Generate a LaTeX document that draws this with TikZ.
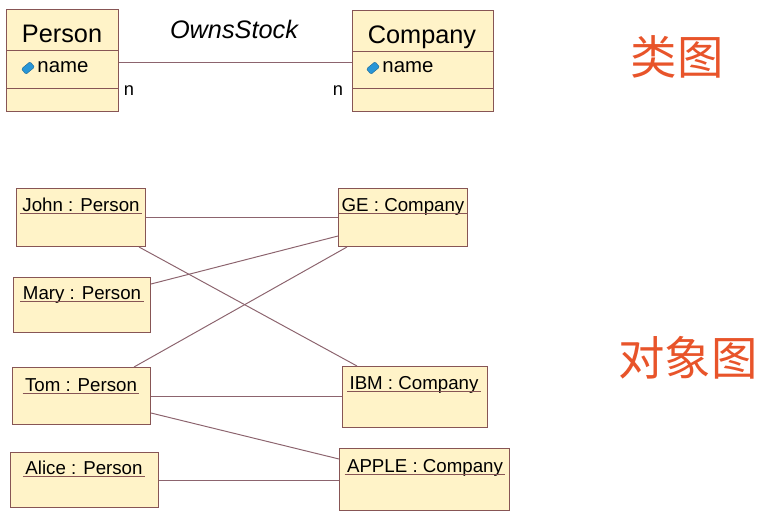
\documentclass[tikz,border=0pt]{standalone}
\usepackage{fontspec}
\setmainfont{Liberation Sans}
\newfontfamily\cjk{Noto Sans CJK SC}
\usetikzlibrary{calc}
\definecolor{boxfill}{RGB}{255,243,200}
\definecolor{boxline}{RGB}{135,85,85}
\definecolor{linkcol}{RGB}{140,100,110}
\definecolor{titlecol}{RGB}{232,84,42}
\definecolor{iconcol}{RGB}{40,150,215}

\begin{document}
\begin{tikzpicture}[x=0.025cm, y=-0.025cm, line width=0.7pt,
  box/.style={draw=boxline, fill=boxfill, anchor=north west, inner sep=0pt},
  link/.style={draw=linkcol},
  classname/.style={anchor=base, inner sep=0pt, font=\fontsize{18}{20}\selectfont},
  attr/.style={anchor=base west, inner sep=0pt, font=\fontsize{14.5}{16}\selectfont},
  attricon/.style={fill=iconcol, draw=iconcol!70!black, line width=0.3pt, rounded corners=0.8pt,
                   minimum width=8pt, minimum height=5pt, inner sep=0pt, rotate=40},
  objname/.style={anchor=base, inner sep=0pt, font=\fontsize{13.3}{15}\selectfont},
  title/.style={text=titlecol, font=\cjk\fontsize{33}{36}\selectfont}]
\useasboundingbox (0,0) rectangle (782,520);

% class diagram
\node[box, minimum width=2.8cm, minimum height=2.55cm] (person) at (6,9) {};
\node[box, minimum width=3.525cm, minimum height=2.525cm] (company) at (352,10) {};
\draw[boxline] ($(person.north west)+(0,41)$) -- ($(person.north east)+(0,41)$);
\draw[boxline] ($(person.north west)+(0,79)$) -- ($(person.north east)+(0,79)$);
\draw[boxline] ($(company.north west)+(0,41)$) -- ($(company.north east)+(0,41)$);
\draw[boxline] ($(company.north west)+(0,78)$) -- ($(company.north east)+(0,78)$);
\node[classname] (persontitle) at (62,42) {Person};
\node[classname] (companytitle) at (422,43.5) {Company};
\node[attr] (personattr) at (37,72) {name};
\node[attr] (companyattr) at (382,72) {name};
\node[attricon] (personicon) at (28,68) {};
\node[attricon] (companyicon) at (373,68) {};
\draw[link] ($(person.east)+(0,2)$) -- ($(person.east -| company.west)+(0,2)$);
\node[anchor=base, font=\fontsize{18}{20}\selectfont\itshape] (assoc) at (234,38) {OwnsStock};
\node[anchor=base, font=\fontsize{13}{15}\selectfont] (multperson) at (129,95) {n};
\node[anchor=base, font=\fontsize{13}{15}\selectfont] (multcompany) at (338,95) {n};

% object diagram
\node[box, minimum width=3.225cm, minimum height=1.45cm] (john) at (16,188) {};
\node[box, minimum width=3.425cm, minimum height=1.375cm] (mary) at (13,277) {};
\node[box, minimum width=3.45cm, minimum height=1.425cm] (tom) at (12,367) {};
\node[box, minimum width=3.7cm, minimum height=1.375cm] (alice) at (10,452) {};
\node[box, minimum width=3.225cm, minimum height=1.45cm] (ge) at (338,188) {};
\node[box, minimum width=3.625cm, minimum height=1.525cm] (ibm) at (342,366) {};
\node[box, minimum width=4.25cm, minimum height=1.55cm] (apple) at (339,448) {};

\node[objname] (johnname) at (81,211) {John : Person};
\node[objname] (maryname) at (82,299) {Mary : Person};
\node[objname] (tomname) at (81,391) {Tom : Person};
\node[objname] (alicename) at (84,474) {Alice : Person};
\node[objname] (gename) at (403,211) {GE : Company};
\node[objname] (ibmname) at (414,389) {IBM : Company};
\node[objname] (applename) at (425,472) {APPLE : Company};
\foreach \n in {johnname, maryname, tomname, alicename, gename, ibmname, applename}
  \draw[boxline] ($(\n.base west)+(-2,2)$) -- ($(\n.base east)+(2,2)$);

\draw[link] (john.east) -- (john.east -| ge.west);
\draw[link] ($(john.south east)+(-7,0)$) -- ($(ibm.north west)+(15,0)$);
\draw[link] ($(mary.north east)+(0,7)$) -- ($(ge.south west)+(0,-11)$);
\draw[link] ($(tom.north east)+(-17,0)$) -- ($(ge.south west)+(9,0)$);
\draw[link] (tom.east) -- (tom.east -| ibm.west);
\draw[link] ($(tom.south east)+(0,-12)$) -- ($(apple.north west)+(0,11)$);
\draw[link] (alice.east) -- (alice.east -| apple.west);

\node[title] (classlabel) at (677,57) {类图};
\node[title] (objectlabel) at (688,358) {对象图};
\end{tikzpicture}
\end{document}
